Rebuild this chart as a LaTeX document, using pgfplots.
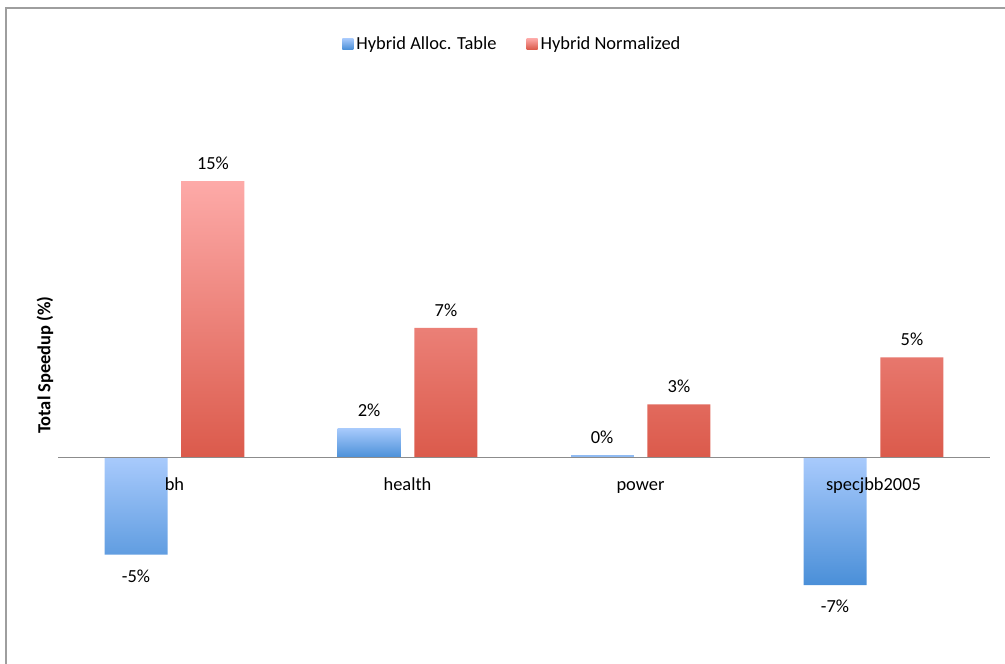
\documentclass[border=0pt]{standalone}
\usepackage{fontspec}
\setmainfont{Carlito}
\usepackage{pgfplots}
\pgfplotsset{compat=1.18}
\definecolor{bluetop}{HTML}{A8CAFC}
\definecolor{bluebot}{HTML}{4A8FD8}
\definecolor{redtop}{HTML}{FDAAA8}
\definecolor{redbot}{HTML}{DB5A4B}
\newcommand{\cf}{\fontsize{18.5}{22}\selectfont}
\begin{document}
\begin{tikzpicture}
\path (0bp,0bp) rectangle (1005bp,664bp);
\begin{scope}
\clip (0bp,0bp) rectangle (1005bp,664bp);
\draw[color=black!38, line width=2bp] (6bp,656bp) rectangle (1030bp,-30bp);
\end{scope}
\node[rotate=90, font=\bfseries\fontsize{18.5}{22}\selectfont] at (45bp,299bp) {Total Speedup (\%)};
\begin{axis}[
  at={(58bp,31bp)}, anchor=south west,
  scale only axis, width=932bp, height=544bp,
  xmin=-0.5, xmax=3.5, ymin=-9.5, ymax=20,
  ybar,
  axis on top,
  axis x line*=middle, axis y line=none,
  x axis line style={color=black!45, line width=1bp},
  xtick={0,1,2,3}, xticklabels={bh,health,power,specjbb2005},
  major tick length=0pt,
  xticklabel style={font=\cf, text height=13bp, text depth=4bp, yshift=-16bp},
  ytick=\empty,
  legend style={draw=none, fill=none, at={(0.488,1.083)}, anchor=center, font=\cf,
    nodes={inner xsep=3bp},
    /tikz/every even column/.append style={column sep=27bp}},
  legend columns=2,
  legend image code/.code={\path[#1] (0bp,-5.5bp) rectangle (11bp,5.5bp);},
  nodes near coords={\pgfplotspointmeta\%},
  nodes near coords style={font=\cf, inner ysep=11bp, text=black, anchor=south},
  point meta=explicit symbolic,
  clip=false,
]
\addplot[bar width=0.27, bar shift=-0.165, draw=none, shade, top color=bluetop, bottom color=bluebot]
  table[x=x, y=y, meta=lab] {
x y lab
1 1.6 2
};
\addlegendentry{Hybrid Alloc. Table}
\addplot[bar width=0.27, bar shift=0.165, draw=none, shade, top color=redtop, bottom color=redbot]
  table[x=x, y=y, meta=lab] {
x y lab
0 15.0 15
1 7.05 7
2 2.9 3
3 5.45 5
};
\addlegendentry{Hybrid Normalized}
\addplot[forget plot, bar width=0.27, bar shift=-0.165, draw=none, fill=bluetop!75!bluebot]
  table[x=x, y=y, meta=lab] {
x y lab
2 0.15 0
};
\addplot[forget plot, bar width=0.27, bar shift=-0.165, draw=none, shade, top color=bluetop, bottom color=bluebot,
  nodes near coords style={anchor=north, inner ysep=15bp}]
  table[x=x, y=y, meta=lab] {
x y lab
0 -5.25 -5
3 -6.9 -7
};
\end{axis}
\end{tikzpicture}
\end{document}
